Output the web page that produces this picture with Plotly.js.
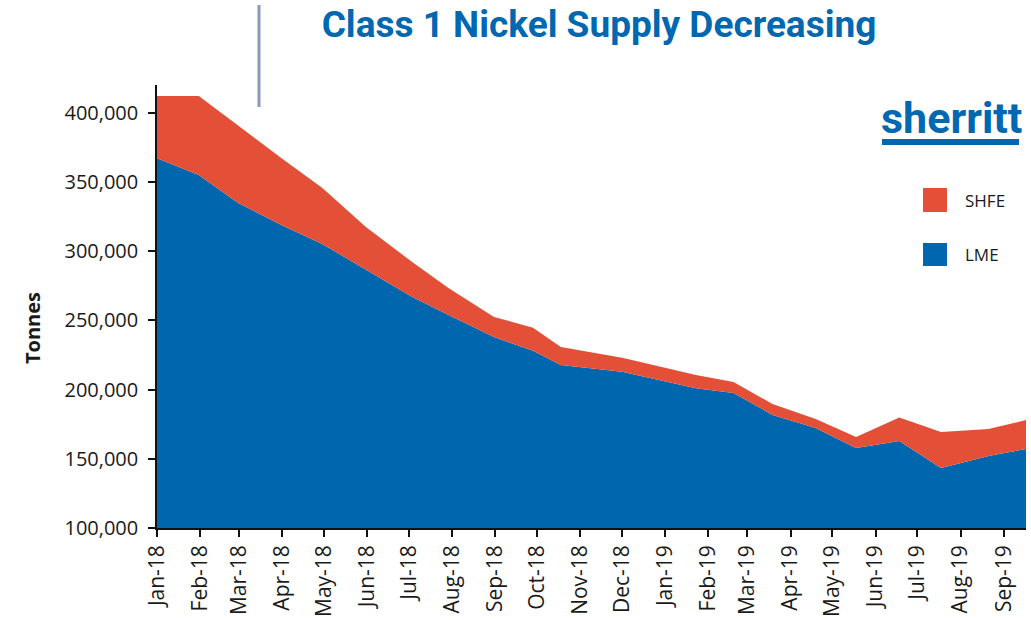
<!DOCTYPE html>
<html>
<head>
<meta charset="utf-8">
<script src="https://cdn.plot.ly/plotly-3.0.1.min.js"></script>
<style>
  html, body { margin: 0; padding: 0; background: #ffffff; }
  #chart { width: 1031px; height: 620px; }
</style>
</head>
<body>
<div id="chart"></div>
<script>
// ---- Data ----
var dates = [
  '2018-01-01', '2018-01-31', '2018-02-28', '2018-03-31', '2018-04-30',
  '2018-05-31', '2018-07-03', '2018-07-29', '2018-08-31', '2018-09-28',
  '2018-10-18', '2018-12-01', '2019-01-23', '2019-02-19', '2019-03-19',
  '2019-04-19', '2019-05-18', '2019-06-18', '2019-07-18', '2019-08-21',
  '2019-09-17'
];
var lme = [
  367000, 355000, 335000, 319000, 305000,
  286500, 267000, 254000, 238000, 228000,
  217800, 212800, 201000, 197600, 181700,
  172300, 157800, 162900, 143400, 152000,
  157100
];
var shfe = [
  45000, 57000, 56000, 48500, 40500,
  31000, 25300, 19500, 14500, 16600,
  13000, 10100, 9600, 7900, 7900,
  6500, 8000, 17000, 26000, 19600,
  20900
];
var tickDates = [
  '2018-01-01', '2018-02-01', '2018-03-01', '2018-04-01', '2018-05-01',
  '2018-06-01', '2018-07-01', '2018-08-01', '2018-09-01', '2018-10-01',
  '2018-11-01', '2018-12-01', '2019-01-01', '2019-02-01', '2019-03-01',
  '2019-04-01', '2019-05-01', '2019-06-01', '2019-07-01', '2019-08-01',
  '2019-09-01'
];
var tickLabels = [
  'Jan-18', 'Feb-18', 'Mar-18', 'Apr-18', 'May-18', 'Jun-18', 'Jul-18',
  'Aug-18', 'Sep-18', 'Oct-18', 'Nov-18', 'Dec-18', 'Jan-19', 'Feb-19',
  'Mar-19', 'Apr-19', 'May-19', 'Jun-19', 'Jul-19', 'Aug-19', 'Sep-19'
];
var seriesNames = ['LME', 'SHFE'];
var titleText = 'Class 1 Nickel Supply Decreasing';
var yTitle = 'Tonnes';
var logoText = 'sherritt';

// ---- Styles ----
var BLUE = '#0067AE';
var RED = '#E45037';
var TXT = '#1a1a1a';

var traces = [
  {
    x: dates, y: lme, name: seriesNames[0], type: 'scatter', mode: 'lines',
    stackgroup: 'one', line: { width: 0, color: BLUE }, fillcolor: BLUE,
    showlegend: false, hoverinfo: 'x+y+name'
  },
  {
    x: dates, y: shfe, name: seriesNames[1], type: 'scatter', mode: 'lines',
    stackgroup: 'one', line: { width: 0, color: RED }, fillcolor: RED,
    showlegend: false, hoverinfo: 'x+y+name'
  }
];

var W = 1031, H = 620;
var M = { l: 157, r: 5, t: 85, b: 92 };
var PW = W - M.l - M.r, PH = H - M.t - M.b;
// convert picture pixels to paper fractions (paper = plot area)
function pxp(x) { return (x - M.l) / PW; }
function pyp(y) { return (H - M.b - y) / PH; }

var layout = {
  width: W, height: H,
  paper_bgcolor: '#ffffff', plot_bgcolor: '#ffffff',
  margin: { l: M.l, r: M.r, t: M.t, b: M.b, pad: 0 },
  showlegend: false,
  title: {
    text: '<b>' + titleText + '</b>',
    font: { family: 'Roboto, sans-serif', size: 37, color: '#0067B1' },
    xref: 'container', yref: 'container',
    x: 599 / W, xanchor: 'center',
    y: 1 - 24 / H, yanchor: 'middle'
  },
  xaxis: {
    type: 'date',
    range: [dates[0], dates[dates.length - 1]],
    tickmode: 'array', tickvals: tickDates, ticktext: tickLabels,
    tickangle: -90,
    ticks: 'outside', ticklen: 7, tickwidth: 1.5, tickcolor: '#111',
    showline: true, linecolor: '#111', linewidth: 1.5,
    showgrid: false, zeroline: false,
    tickfont: { family: 'Open Sans, sans-serif', size: 21, color: TXT },
    fixedrange: true
  },
  yaxis: {
    range: [100000, 420000],
    tickmode: 'linear', tick0: 100000, dtick: 50000,
    tickformat: ',d',
    ticks: 'outside', ticklen: 7, tickwidth: 1.5, tickcolor: '#111',
    ticklabelstandoff: 6,
    showline: true, linecolor: '#111', linewidth: 1.5,
    showgrid: false, zeroline: false,
    tickfont: { family: 'Open Sans, sans-serif', size: 20, color: TXT },
    fixedrange: true
  },
  shapes: [
    // legend swatches
    { type: 'rect', xref: 'paper', yref: 'paper', x0: pxp(923), x1: pxp(947), y0: pyp(212), y1: pyp(188),
      fillcolor: RED, line: { width: 0 } },
    { type: 'rect', xref: 'paper', yref: 'paper', x0: pxp(923), x1: pxp(947), y0: pyp(266), y1: pyp(243),
      fillcolor: BLUE, line: { width: 0 } },
    // logo underline
    { type: 'rect', xref: 'paper', yref: 'paper', x0: pxp(882), x1: pxp(1019), y0: pyp(145), y1: pyp(139),
      fillcolor: '#0067B1', line: { width: 0 } },
    // grey vertical mark at the top
    { type: 'line', xref: 'paper', yref: 'paper', x0: pxp(259), x1: pxp(259), y0: pyp(5), y1: pyp(107),
      line: { color: '#8A9BB5', width: 3 } }
  ],
  annotations: [
    { text: seriesNames[1], xref: 'paper', yref: 'paper', x: pxp(963), y: pyp(200),
      xanchor: 'left', yanchor: 'middle', showarrow: false,
      font: { family: 'Open Sans, sans-serif', size: 17, color: TXT } },
    { text: seriesNames[0], xref: 'paper', yref: 'paper', x: pxp(963), y: pyp(254),
      xanchor: 'left', yanchor: 'middle', showarrow: false,
      font: { family: 'Open Sans, sans-serif', size: 17, color: TXT } },
    { text: '<b>' + yTitle + '</b>', xref: 'paper', yref: 'paper', x: pxp(32), y: pyp(328),
      xanchor: 'center', yanchor: 'middle', textangle: -90, showarrow: false,
      font: { family: 'Open Sans, sans-serif', size: 20, color: TXT } },
    { text: '<b>' + logoText + '</b>', xref: 'paper', yref: 'paper', x: pxp(951), y: pyp(118),
      xanchor: 'center', yanchor: 'middle', showarrow: false,
      font: { family: 'Roboto, sans-serif', size: 43, color: '#0067B1' } }
  ]
};

Plotly.newPlot('chart', traces, layout, { displayModeBar: false, responsive: false });
</script>
</body>
</html>
